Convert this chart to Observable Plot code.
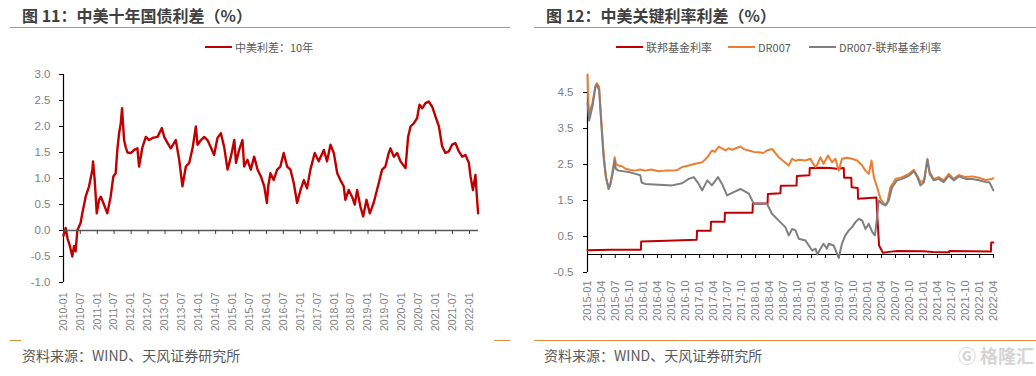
<!DOCTYPE html>
<html><head><meta charset="utf-8">
<script src="https://cdn.jsdelivr.net/npm/d3@7"></script>
<script src="https://cdn.jsdelivr.net/npm/@observablehq/plot@0.6"></script>
<style>
body{margin:0;background:#fff;}
#page{position:relative;width:1036px;height:376px;overflow:hidden;background:#fff;font-family:"Liberation Sans","Noto Sans CJK SC",sans-serif;}
.title{position:absolute;top:4px;font-family:"Noto Sans CJK SC",sans-serif;font-weight:bold;font-size:16px;color:#404040;white-space:nowrap;line-height:22px;}
.hr{position:absolute;height:1.5px;background:#E48A3C;}
.legend{position:absolute;top:39px;font-size:11px;color:#595959;font-family:"Noto Sans CJK SC","Liberation Sans",sans-serif;display:flex;align-items:center;white-space:nowrap;line-height:16px;}
.legend .item{display:flex;align-items:center;}
.sw{display:inline-block;width:27px;height:2px;margin-right:3px;}
.caption{position:absolute;top:345px;font-size:14px;color:#595959;font-family:"Noto Sans CJK SC",sans-serif;white-space:nowrap;line-height:20px;}
.plotbox{position:absolute;top:60px;}
.wm{position:absolute;left:958px;top:343px;font-size:18px;font-weight:bold;color:#d4d4d4;font-family:"Noto Sans CJK SC",sans-serif;line-height:24px;white-space:nowrap;}
</style>
</head><body>
<div id="page">
  <div class="title" style="left:22px;">图 11：中美十年国债利差（%）</div>
  <div class="hr" style="left:10px;width:500px;top:26.5px;"></div>
  <div class="legend" style="left:205px;"><span class="item"><span class="sw" style="background:#C00000"></span>中美利差：10年</span></div>
  <div class="plotbox" id="left" style="left:0px;"></div>
  <div class="hr" style="left:10px;width:11px;top:339.5px;"></div>
  <div class="hr" style="left:494px;width:16px;top:339.5px;"></div>
  <div class="caption" style="left:22px;">资料来源：WIND、天风证券研究所</div>

  <div class="title" style="left:546px;">图 12：中美关键利率利差（%）</div>
  <div class="hr" style="left:534px;width:502px;top:26.5px;"></div>
  <div class="legend" style="left:616px;">
    <span class="item"><span class="sw" style="background:#C00000"></span>联邦基金利率</span>
    <span class="item" style="margin-left:16px;"><span class="sw" style="background:#ED7D31"></span>DR007</span>
    <span class="item" style="margin-left:18px;"><span class="sw" style="background:#7F7F7F"></span>DR007-联邦基金利率</span>
  </div>
  <div class="plotbox" id="right" style="left:516px;"></div>
  <div class="hr" style="left:534px;width:502px;top:339.5px;"></div>
  <div class="caption" style="left:544px;">资料来源：WIND、天风证券研究所</div>
  <div class="wm">Ⓖ 格隆汇</div>
</div>
<script>
// ---------- Left chart data: 中美利差：10年 ----------
const spreadDates = ["2010-01-01","2010-01-25","2010-02-13","2010-03-11","2010-04-06","2010-04-24","2010-05-12","2010-05-30","2010-07-05","2010-07-23","2010-08-28","2010-10-04","2010-11-09","2010-11-16","2010-12-04","2010-12-26","2011-01-20","2011-02-08","2011-03-14","2011-04-19","2011-05-25","2011-06-23","2011-07-18","2011-08-05","2011-08-24","2011-09-11","2011-09-25","2011-10-17","2011-11-04","2011-11-22","2011-12-28","2012-02-03","2012-03-09","2012-03-27","2012-05-02","2012-06-08","2012-07-13","2012-08-19","2012-10-12","2012-11-28","2012-12-23","2013-01-29","2013-03-04","2013-04-27","2013-06-03","2013-07-08","2013-08-14","2013-09-19","2013-10-25","2013-11-30","2013-12-18","2014-01-24","2014-02-28","2014-04-04","2014-05-10","2014-06-15","2014-07-21","2014-08-27","2014-10-02","2014-11-07","2014-12-13","2015-01-19","2015-02-06","2015-03-12","2015-04-17","2015-05-05","2015-06-10","2015-07-16","2015-08-21","2015-09-27","2015-11-02","2015-12-08","2016-01-06","2016-01-20","2016-02-13","2016-03-19","2016-04-25","2016-05-30","2016-07-05","2016-08-11","2016-09-16","2016-10-22","2016-11-27","2017-01-03","2017-02-08","2017-03-14","2017-04-19","2017-06-05","2017-07-18","2017-09-11","2017-10-16","2017-11-22","2017-12-28","2018-02-03","2018-03-09","2018-04-14","2018-05-02","2018-06-07","2018-07-13","2018-08-11","2018-09-06","2018-10-11","2018-11-10","2018-12-16","2019-01-21","2019-03-03","2019-04-27","2019-06-02","2019-07-08","2019-08-13","2019-09-01","2019-10-07","2019-11-12","2019-12-18","2020-02-10","2020-03-09","2020-04-04","2020-05-09","2020-06-14","2020-07-10","2020-08-08","2020-09-13","2020-10-19","2020-11-24","2020-12-30","2021-02-05","2021-03-11","2021-04-16","2021-05-22","2021-06-27","2021-08-02","2021-09-08","2021-10-14","2021-11-19","2021-12-25","2022-01-12","2022-02-07","2022-03-06","2022-03-24","2022-04-04"];
const spreadValues = [-0.1,0.05,-0.15,-0.3,-0.5,-0.3,-0.4,0.0,0.15,0.33,0.65,0.85,1.17,1.33,0.97,0.33,0.59,0.65,0.5,0.33,0.65,1.04,1.1,1.55,1.87,2.06,2.35,1.74,1.6,1.5,1.49,1.55,1.58,1.23,1.6,1.8,1.74,1.78,1.8,1.97,1.8,1.68,1.58,1.74,1.36,0.85,1.23,1.3,1.58,2.0,1.65,1.74,1.8,1.74,1.6,1.45,1.78,1.87,1.6,1.17,1.42,1.74,1.3,1.55,1.74,1.23,1.36,1.17,1.42,1.17,1.04,0.85,0.53,0.85,1.1,0.97,1.17,1.23,1.49,1.23,1.17,0.91,0.53,0.78,0.97,0.81,1.17,1.49,1.33,1.55,1.33,1.65,1.49,1.1,0.97,0.85,0.59,0.78,0.65,0.5,0.78,0.46,0.27,0.59,0.33,0.53,0.91,1.17,1.23,1.49,1.58,1.42,1.49,1.33,1.2,1.8,2.0,2.06,2.16,2.42,2.35,2.45,2.48,2.38,2.19,2.0,1.62,1.49,1.52,1.65,1.68,1.52,1.42,1.45,1.3,1.04,0.78,1.07,0.59,0.33];
const leftTicks = ["2010-01","2010-07","2011-01","2011-07","2012-01","2012-07","2013-01","2013-07","2014-01","2014-07","2015-01","2015-07","2016-01","2016-07","2017-01","2017-07","2018-01","2018-07","2019-01","2019-07","2020-01","2020-07","2021-01","2021-07","2022-01"];
const leftYTicks = [-1, -0.5, 0, 0.5, 1, 1.5, 2, 2.5, 3];

// ---------- Right chart data ----------
const ffrDates = ["2015-01-01","2015-06-01","2015-12-15","2015-12-17","2016-06-01","2016-12-13","2016-12-15","2017-03-14","2017-03-16","2017-06-13","2017-06-15","2017-12-12","2017-12-14","2018-03-20","2018-03-22","2018-06-12","2018-06-14","2018-09-25","2018-09-27","2018-12-18","2018-12-20","2019-03-01","2019-05-01","2019-06-15","2019-07-30","2019-08-01","2019-09-17","2019-09-19","2019-10-29","2019-10-31","2020-02-28","2020-03-04","2020-03-16","2020-04-10","2020-06-01","2020-07-15","2021-01-01","2021-03-01","2021-06-16","2021-06-17","2022-03-15","2022-03-17","2022-03-31"];
const ffrValues = [0.12,0.13,0.13,0.36,0.38,0.41,0.66,0.66,0.91,0.91,1.16,1.16,1.42,1.42,1.68,1.70,1.91,1.92,2.18,2.20,2.40,2.41,2.40,2.38,2.40,2.13,2.13,1.87,1.85,1.55,1.58,1.10,0.25,0.05,0.08,0.10,0.09,0.07,0.06,0.10,0.08,0.33,0.33];

const drDates = ["2015-01-01","2015-01-06","2015-01-12","2015-02-01","2015-02-22","2015-03-03","2015-03-18","2015-04-01","2015-04-16","2015-05-01","2015-05-18","2015-05-29","2015-06-14","2015-06-27","2015-07-05","2015-07-22","2015-08-15","2015-09-05","2015-10-10","2015-11-09","2015-12-10","2016-01-14","2016-02-20","2016-04-09","2016-05-20","2016-07-05","2016-08-10","2016-09-09","2016-10-22","2016-11-15","2016-12-05","2017-01-18","2017-02-20","2017-03-22","2017-04-10","2017-05-05","2017-06-18","2017-07-10","2017-08-01","2017-09-24","2017-10-20","2017-11-18","2017-12-20","2018-01-22","2018-02-20","2018-03-16","2018-04-18","2018-05-10","2018-06-01","2018-07-14","2018-08-05","2018-08-27","2018-09-18","2018-10-09","2018-11-22","2018-12-25","2019-01-05","2019-01-27","2019-02-07","2019-02-28","2019-03-20","2019-04-18","2019-05-14","2019-06-05","2019-06-27","2019-07-18","2019-08-20","2019-09-22","2019-10-25","2019-11-27","2019-12-18","2020-01-09","2020-01-27","2020-02-11","2020-03-03","2020-03-25","2020-04-16","2020-05-07","2020-05-29","2020-07-01","2020-08-14","2020-09-27","2020-10-29","2020-11-20","2020-12-11","2021-01-03","2021-01-25","2021-02-09","2021-03-07","2021-04-09","2021-05-11","2021-06-14","2021-07-16","2021-08-18","2021-10-01","2021-11-14","2021-12-27","2022-02-09","2022-03-22","2022-03-31"];
const drValues = [5.0,4.3,3.9,4.19,4.69,4.76,4.65,3.72,2.8,2.15,1.87,1.96,2.33,2.7,2.52,2.47,2.45,2.38,2.35,2.33,2.36,2.33,2.36,2.31,2.33,2.33,2.35,2.43,2.47,2.5,2.52,2.56,2.7,2.89,2.85,3.0,2.89,2.95,2.91,3.0,2.92,2.89,2.85,2.84,2.82,2.89,2.93,2.82,2.7,2.55,2.47,2.66,2.6,2.63,2.61,2.66,2.56,2.43,2.5,2.7,2.52,2.75,2.56,2.66,2.33,2.66,2.69,2.66,2.61,2.47,2.33,2.24,2.61,2.15,1.87,1.55,1.41,1.41,1.87,2.1,2.15,2.24,2.35,2.19,2.01,2.06,2.66,2.29,2.1,2.15,2.06,2.24,2.1,2.21,2.15,2.17,2.13,2.07,2.1,2.12];

const gapDates = ["2015-01-01","2015-01-12","2015-02-01","2015-02-22","2015-03-03","2015-03-18","2015-04-01","2015-04-16","2015-05-01","2015-05-18","2015-05-29","2015-06-14","2015-06-27","2015-07-05","2015-07-22","2015-09-26","2015-11-09","2015-12-11","2015-12-20","2016-01-14","2016-04-09","2016-07-05","2016-09-09","2016-10-22","2016-11-24","2016-12-26","2017-01-18","2017-02-20","2017-03-22","2017-05-01","2017-05-27","2017-06-29","2017-08-11","2017-09-24","2017-11-18","2017-12-20","2018-02-13","2018-03-16","2018-04-18","2018-06-01","2018-07-14","2018-08-05","2018-08-27","2018-09-18","2018-10-09","2018-11-22","2019-01-05","2019-01-27","2019-02-07","2019-02-28","2019-03-20","2019-04-11","2019-04-22","2019-05-25","2019-06-16","2019-06-27","2019-07-18","2019-08-09","2019-09-01","2019-09-22","2019-10-14","2019-11-05","2019-11-27","2019-12-18","2020-01-09","2020-02-01","2020-02-18","2020-03-03","2020-03-14","2020-04-05","2020-04-27","2020-05-18","2020-06-09","2020-07-11","2020-08-14","2020-09-27","2020-10-29","2020-11-20","2020-12-11","2021-01-03","2021-01-25","2021-02-09","2021-03-07","2021-04-09","2021-05-11","2021-06-14","2021-07-16","2021-08-18","2021-10-01","2021-11-14","2021-12-27","2022-02-09","2022-03-05","2022-03-31"];
const gapValues = [4.2,3.72,4.09,4.65,4.72,4.56,3.63,2.7,2.15,1.82,1.92,2.24,2.61,2.38,2.33,2.29,2.24,2.2,2.0,1.96,1.94,1.92,1.98,2.1,2.15,1.96,1.78,2.06,1.92,2.15,1.96,1.64,1.73,1.82,1.69,1.41,1.41,1.41,1.13,0.94,0.76,0.53,0.71,0.67,0.44,0.39,0.11,0.16,0.0,0.16,0.30,0.16,0.30,0.25,0.02,-0.09,0.30,0.53,0.67,0.76,0.9,0.99,0.94,0.71,0.85,0.62,0.53,1.04,1.5,1.41,1.36,1.5,1.87,2.06,2.1,2.19,2.31,2.15,1.92,2.01,2.63,2.24,2.06,2.1,2.01,2.19,2.06,2.17,2.1,2.1,2.06,2.01,2.01,1.78];

const rightTicks = ["2015-01","2015-04","2015-07","2015-10","2016-01","2016-04","2016-07","2016-10","2017-01","2017-04","2017-07","2017-10","2018-01","2018-04","2018-07","2018-10","2019-01","2019-04","2019-07","2019-10","2020-01","2020-04","2020-07","2020-10","2021-01","2021-04","2021-07","2021-10","2022-01","2022-04"];
const rightYTicks = [-0.5, 0.5, 1.5, 2.5, 3.5, 4.5];

// ---------- build ----------
const pd = d3.utcParse("%Y-%m-%d");
const pm = d3.utcParse("%Y-%m");
const fmtM = d3.utcFormat("%Y-%m");
const fmtY = d => d.toFixed(1);
const textGray = "#7F7F7F";

const leftData = spreadDates.map((d, i) => ({date: pd(d), value: spreadValues[i]}));
const lt = leftTicks.map(pm);

const leftPlot = Plot.plot({
  width: 516, height: 280,
  marginLeft: 63, marginRight: 38, marginTop: 14, marginBottom: 58,
  style: {background: "transparent", fontFamily: "'Liberation Sans', Arial, sans-serif", overflow: "visible"},
  x: {type: "utc", domain: [pd("2010-01-01"), pd("2022-04-08")]},
  y: {domain: [-1, 3]},
  marks: [
    Plot.axisY({ticks: leftYTicks, tickSize: 4, tickPadding: 9, tickFormat: fmtY, fontSize: 11.5, stroke: "#000", fill: textGray, label: null}),
    Plot.axisX({ticks: lt, tickSize: 0, tickPadding: 10, tickRotate: -90, tickFormat: fmtM, fontSize: 10.5, fill: textGray, label: null}),
    Plot.ruleX([pd("2010-01-01")], {stroke: "#000", strokeWidth: 1.2}),
    Plot.lineY(leftData, {x: "date", y: "value", stroke: "#C00000", strokeWidth: 2.4}),
    Plot.ruleY([0], {stroke: "#595959", strokeWidth: 1.6}),
    Plot.ruleX(lt, {x: d => d, y1: 0, y2: 0, insetBottom: -4, stroke: "#404040"})
  ]
});
document.getElementById("left").appendChild(leftPlot);

const rt = rightTicks.map(pm);
const ffr = ffrDates.map((d, i) => ({date: pd(d), value: ffrValues[i]}));
const dr = drDates.map((d, i) => ({date: pd(d), value: drValues[i]}));
const gap = gapDates.map((d, i) => ({date: pd(d), value: gapValues[i]}));

const rightPlot = Plot.plot({
  width: 520, height: 280,
  marginLeft: 71, marginRight: 43, marginTop: 14, marginBottom: 68,
  style: {background: "transparent", fontFamily: "'Liberation Sans', Arial, sans-serif", overflow: "visible"},
  x: {type: "utc", domain: [pd("2015-01-01"), pd("2022-04-01")]},
  y: {domain: [-0.5, 5]},
  marks: [
    Plot.axisY({ticks: rightYTicks, tickSize: 4, tickPadding: 10, tickFormat: fmtY, fontSize: 11.5, stroke: "#000", fill: textGray, label: null}),
    Plot.axisX({ticks: rt, tickSize: 0, tickPadding: 8, tickRotate: -90, tickFormat: fmtM, fontSize: 11, fill: textGray, label: null}),
    Plot.ruleX([pd("2015-01-01")], {stroke: "#000", strokeWidth: 1.2}),
    Plot.ruleY([0], {stroke: "#000", strokeWidth: 1.2}),
    Plot.ruleX(rt, {x: d => d, y1: 0, y2: 0, insetBottom: -4, stroke: "#000"}),
    Plot.lineY(ffr, {x: "date", y: "value", stroke: "#C00000", strokeWidth: 2}),
    Plot.lineY(dr, {x: "date", y: "value", stroke: "#ED7D31", strokeWidth: 2}),
    Plot.lineY(gap, {x: "date", y: "value", stroke: "#7F7F7F", strokeWidth: 2})
  ]
});
document.getElementById("right").appendChild(rightPlot);
</script>
</body></html>
